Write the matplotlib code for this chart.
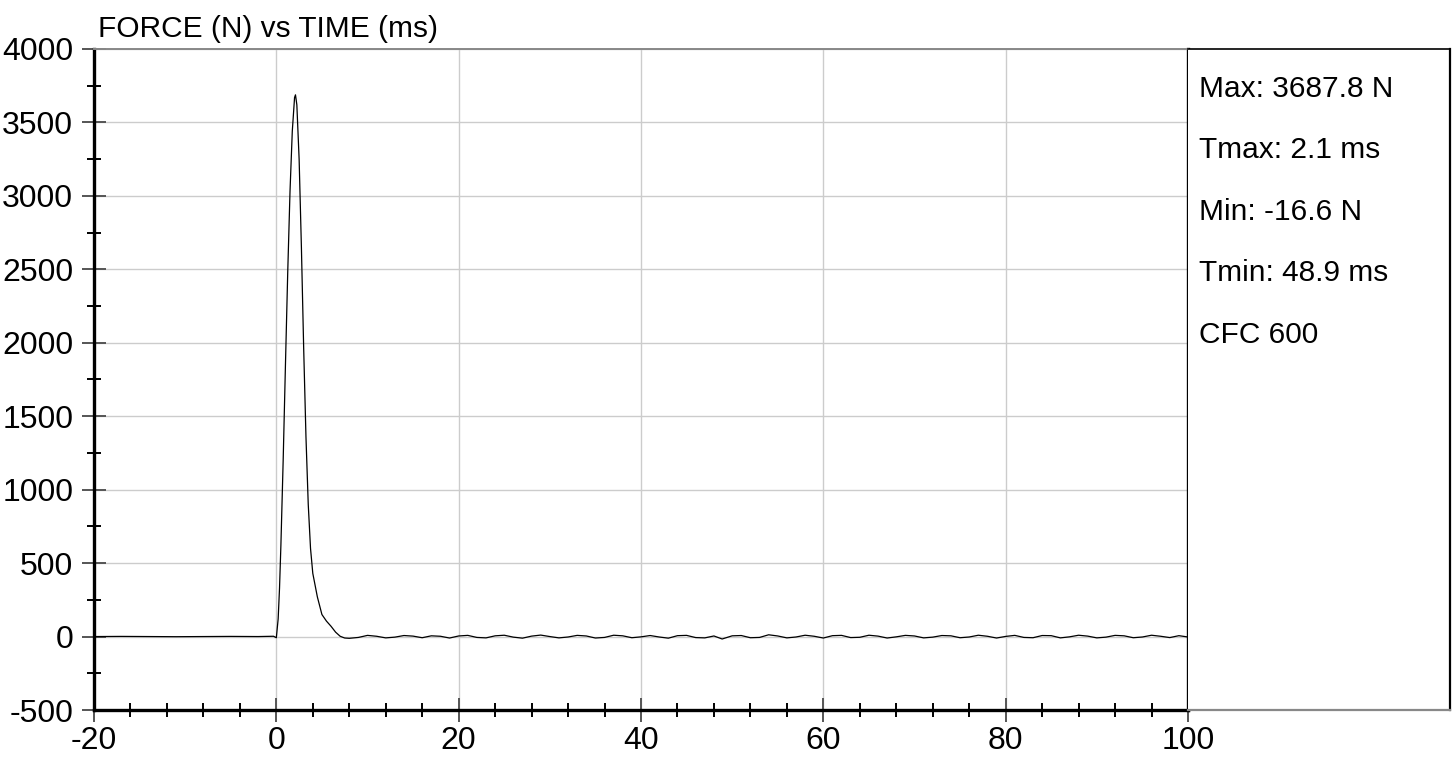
import matplotlib
matplotlib.use("Agg")
import matplotlib.pyplot as plt
from matplotlib.ticker import MultipleLocator

plt.rcParams['font.family'] = ['Liberation Sans', 'DejaVu Sans']
plt.rcParams['axes.unicode_minus'] = False

# ---- data ----
pre_time = [-20, -17, -14, -11, -8, -5, -2, -0.3, 0.0]
pre_force = [0, 1, 0, -1, 0, 1, 0, 2, -8]

pulse_time = [0.2, 0.35, 0.5, 0.75, 1.0, 1.25, 1.5, 1.75, 2.0, 2.1, 2.25, 2.5,
              2.75, 3.0, 3.25, 3.5, 3.75, 4.0, 4.5, 5.0, 5.5, 6.0, 6.5, 7.0, 7.5]
pulse_force = [120, 330, 620, 1200, 1850, 2480, 3030, 3440, 3670, 3688, 3620, 3250,
               2650, 1960, 1360, 900, 600, 430, 270, 150, 105, 70, 30, 2, -10]

tail_time = [8, 9, 10, 11, 12, 13, 14, 15, 16, 17, 18, 19, 20, 21, 22, 23, 24, 25,
             26, 27, 28, 29, 30, 31, 32, 33, 34, 35, 36, 37, 38, 39, 40, 41, 42, 43,
             44, 45, 46, 47, 48, 48.9, 50, 51, 52, 53, 54, 55, 56, 57, 58, 59, 60,
             61, 62, 63, 64, 65, 66, 67, 68, 69, 70, 71, 72, 73, 74, 75, 76, 77, 78,
             79, 80, 81, 82, 83, 84, 85, 86, 87, 88, 89, 90, 91, 92, 93, 94, 95, 96,
             97, 98, 99, 100]
tail_force = [-12, -6, 8, 2, -9, -4, 7, 3, -8, 5, 2, -10, 4, 8, -6, -9, 5, 9, -4,
              -11, 3, 10, 0, -9, -3, 8, 4, -10, -6, 9, 5, -8, -2, 7, -3, -11, 6,
              8, -7, -9, 4, -16.6, 5, 7, -8, -6, 12, 4, -9, -3, 9, 2, -10, 6, 8,
              -7, -5, 9, 3, -10, -2, 8, 4, -9, -4, 7, 5, -8, -3, 9, 2, -10, 1,
              8, -6, -8, 7, 6, -9, -2, 9, 3, -9, -4, 8, 5, -8, -3, 9, 2, -7, 6, -3]

time_ms = pre_time + pulse_time + tail_time
force_n = pre_force + pulse_force + tail_force

stats_lines = ["Max: 3687.8 N", "Tmax: 2.1 ms", "Min: -16.6 N", "Tmin: 48.9 ms", "CFC 600"]
title_text = "FORCE (N) vs TIME (ms)"

# ---- figure ----
W, H = 1455, 761
fig = plt.figure(figsize=(W / 100, H / 100), dpi=100)
ax_l, ax_r, ax_t, ax_b = 94 / W, 1188 / W, 1 - 49 / H, 1 - 710 / H
ax = fig.add_axes([ax_l, ax_b, ax_r - ax_l, ax_t - ax_b])

fs = 21.5
tfs = 23
ax.plot(time_ms, force_n, color='black', lw=0.9, zorder=3)

ax.set_xlim(-20, 100)
ax.set_ylim(-500, 4000)
ax.xaxis.set_major_locator(MultipleLocator(20))
ax.xaxis.set_minor_locator(MultipleLocator(4))
ax.yaxis.set_major_locator(MultipleLocator(500))
ax.yaxis.set_minor_locator(MultipleLocator(250))

ax.grid(True, which='major', color='#cccccc', lw=1.0, zorder=0)
ax.tick_params(which='major', direction='inout', length=17, width=1.4,
               color='#555555', labelsize=tfs, labelcolor='black', pad=3)
ax.tick_params(which='minor', direction='inout', length=10, width=1.4, color='black')
ax.tick_params(axis='y', which='major', pad=6.5)

for s in ['left', 'bottom', 'right']:
    ax.spines[s].set_linewidth(2.4)
    ax.spines[s].set_color('black')
ax.spines['top'].set_linewidth(1.4)
ax.spines['top'].set_color('#888888')
for s in ax.spines.values():
    s.set_zorder(4)

# right-hand statistics panel
pan = fig.add_axes([ax_r, ax_b, 1450 / W - ax_r, ax_t - ax_b])
pan.set_xticks([])
pan.set_yticks([])
pan.set_xlim(0, 1)
pan.set_ylim(0, 1)
pan.spines['left'].set_visible(False)
pan.spines['top'].set_color('black')
pan.spines['top'].set_linewidth(1.2)
pan.spines['right'].set_color('black')
pan.spines['right'].set_linewidth(1.6)
pan.spines['bottom'].set_color('#888888')
pan.spines['bottom'].set_linewidth(1.6)

panel_h = 710 - 49
for i, line in enumerate(stats_lines):
    y_px = 89 + i * 61.5
    pan.text(11 / (1450 - 1188), 1 - (y_px - 49) / panel_h, line, fontsize=fs,
             ha='left', va='center', transform=pan.transAxes)

fig.text(98 / W, 1 - 37 / H, title_text, fontsize=fs, ha='left', va='baseline')

fig.savefig('out.png', dpi=100, facecolor='white')
